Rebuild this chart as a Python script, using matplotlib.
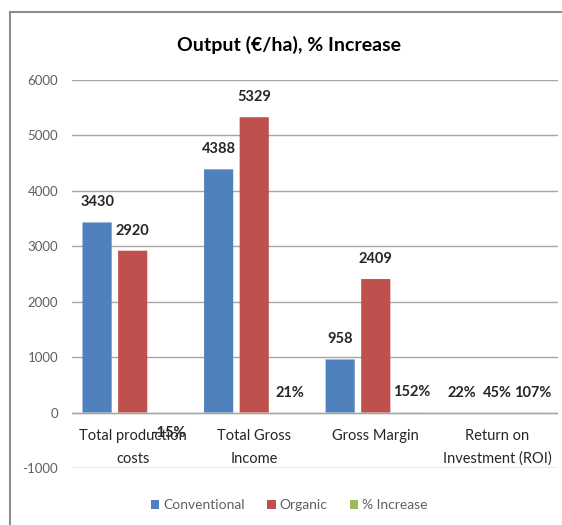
import matplotlib
matplotlib.use("Agg")
import matplotlib.pyplot as plt
from matplotlib.patches import Patch
from matplotlib.lines import Line2D
import numpy as np

plt.rcParams['font.family'] = ['Lato', 'DejaVu Sans']
plt.rcParams['axes.unicode_minus'] = False

categories = ["Total production\ncosts", "Total Gross\nIncome", "Gross Margin",
              "Return on\nInvestment (ROI)"]
series_names = ["Conventional", "Organic", "% Increase"]
conventional = [3430, 4388, 958, 0.22]
organic = [2920, 5329, 2409, 0.45]
pct_increase = [-0.15, 0.21, 1.52, 1.07]
# which values are shown as percentages (per category for the first two series)
pct_category = [False, False, False, True]

colors = ["#4F81BD", "#C0504D", "#9BBB59"]

fig = plt.figure(figsize=(5.62, 5.25), dpi=100)
ax = fig.add_axes([0.128, 0.1086, 0.865, 0.739])

x = np.arange(len(categories))
width = 0.24
offset = 0.293
series = [conventional, organic, pct_increase]

ax.set_xlim(-0.5, len(categories) - 0.5)
ax.set_ylim(-1000, 6000)
ax.set_yticks(np.arange(-1000, 6001, 1000))
ax.yaxis.grid(True, color="#A6A6A6", linewidth=1.0, zorder=0)
ax.set_axisbelow(True)
for s in ax.spines.values():
    s.set_visible(False)
ax.tick_params(axis="y", length=0, labelsize=9.5, labelcolor="#606060", pad=10)
ax.tick_params(axis="x", length=0)
ax.set_xticks([])

px = 7000 / (0.739 * 525)  # data units per pixel vertically

for i, (vals, col) in enumerate(zip(series, colors)):
    xs = x + (i - 1) * offset
    bars = ax.bar(xs, vals, width, color=col, linewidth=0, zorder=2)
    for b in bars:
        b.set_snap(False)
    for j, (xb, v) in enumerate(zip(xs, vals)):
        is_pct = (i == 2) or pct_category[j]
        txt = f"{round(v * 100):d}%" if is_pct else f"{v:d}"
        y = v + 20 * px if v >= 0 else v - 20 * px
        ax.text(xb, y, txt, ha="center", va="center", fontsize=10.5,
                fontweight="bold", color="#262626", zorder=4)

# horizontal category axis line at zero
ax.axhline(0, color="#A6A6A6", linewidth=1.0, zorder=2.5)

# category labels, one text per line
for xi, cat in zip(x, categories):
    for k, line in enumerate(cat.split("\n")):
        ax.text(xi, -23 * px - k * 23 * px, line, ha="center", va="center",
                fontsize=10.5, color="#262626", zorder=3)

fig.text(0.515, 0.914, "Output (€/ha), % Increase", ha="center", va="center",
         fontsize=14, fontweight="bold", color="#000000")

handles = [Patch(facecolor=c, edgecolor="none") for c in colors]
leg = fig.legend(handles, series_names, loc="center", bbox_to_anchor=(0.515, 0.038),
                 ncol=3, frameon=False, fontsize=10, handlelength=0.6,
                 handleheight=0.6, handletextpad=0.3, columnspacing=1.6)
for t in leg.get_texts():
    t.set_color("#606060")

# outer chart frame
fig.add_artist(Line2D([0.018, 0.018], [0.0, 0.977], transform=fig.transFigure,
                      color="#8C8C8C", linewidth=1.5))
fig.add_artist(Line2D([0.018, 1.0], [0.977, 0.977], transform=fig.transFigure,
                      color="#8C8C8C", linewidth=1.5))

fig.savefig("out.png", dpi=100)
